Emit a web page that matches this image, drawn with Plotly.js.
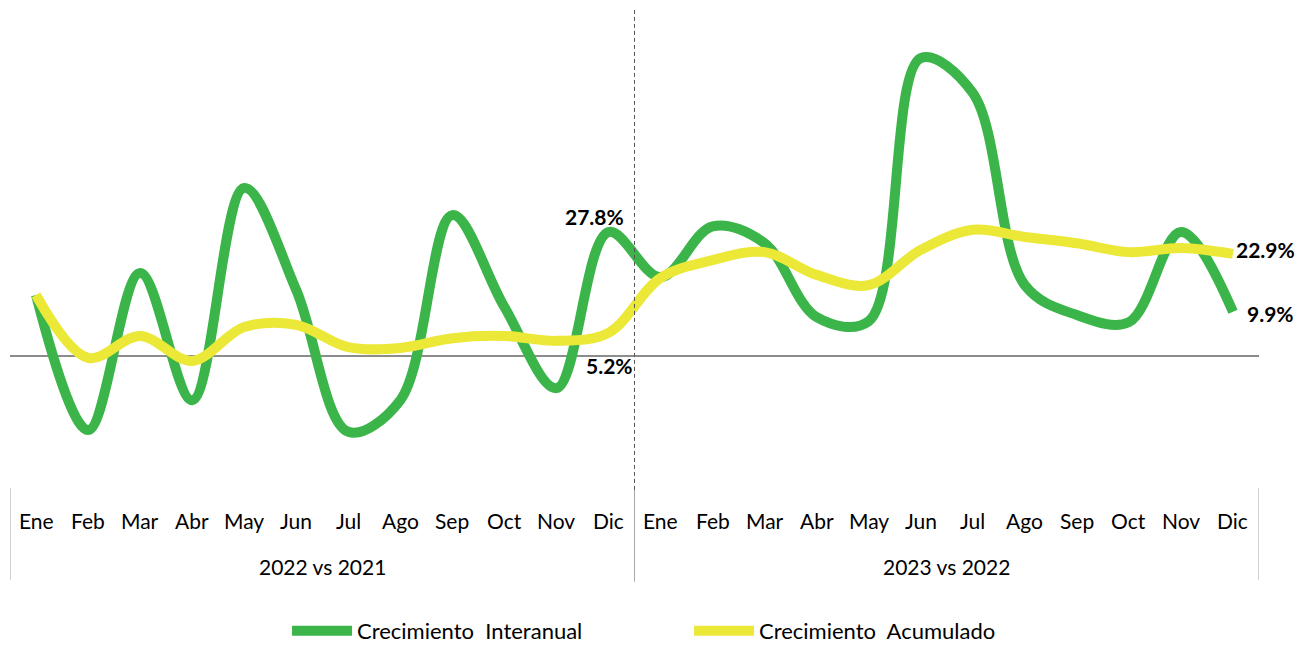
<!DOCTYPE html>
<html>
<head>
<meta charset="utf-8">
<script src="https://cdn.plot.ly/plotly-3.0.1.min.js"></script>
<style>
  html, body { margin: 0; padding: 0; background: #ffffff; }
  #chart { width: 1299px; height: 646px; }
</style>
</head>
<body>
<div id="chart"></div>
<script>
// ---- Data ----
const months = ["Ene","Feb","Mar","Abr","May","Jun","Jul","Ago","Sep","Oct","Nov","Dic"];
const groups = ["2022 vs 2021", "2023 vs 2022"];
const interanual = [13.7, -16.6, 18.6, -9.9, 37.7, 14.8, -17.0, -9.9, 31.6, 11.0, -7.2, 27.8,
                    17.7, 29.1, 25.3, 8.7, 7.8, 66.8, 59.0, 15.9, 9.2, 7.6, 27.8, 9.9];
const acumulado  = [13.7, -0.4, 4.5, -1.1, 6.5, 7.0, 2.0, 1.8, 4.0, 4.5, 3.4, 5.2,
                    17.5, 21.5, 23.3, 18.2, 15.9, 23.8, 28.3, 26.7, 25.3, 23.3, 24.2, 22.9];
const seriesNames = ["Crecimiento  Interanual", "Crecimiento  Acumulado"];

// ---- Build ----
const xs = interanual.map((_, i) => i);
const monthLabels = [];
groups.forEach(() => months.forEach(m => monthLabels.push(m)));

const GREEN = "#3bb54a";
const YELLOW = "#ebe838";
const FONT = "Lato, 'Liberation Sans', sans-serif";

const traces = [
  { x: xs, y: interanual, type: "scatter", mode: "lines", name: seriesNames[0],
    line: { color: GREEN, width: 10, shape: "spline", smoothing: 1 }, hoverinfo: "skip" },
  { x: xs, y: acumulado, type: "scatter", mode: "lines", name: seriesNames[1],
    line: { color: YELLOW, width: 10, shape: "spline", smoothing: 1 }, hoverinfo: "skip" }
];

const annotations = [];
monthLabels.forEach((m, i) => {
  annotations.push({ x: i, xref: "x", y: -0.069, yref: "paper", text: m, showarrow: false,
    font: { family: FONT, size: 21, color: "#000" }, xanchor: "center", yanchor: "middle" });
});
groups.forEach((g, k) => {
  annotations.push({ x: k * 12 + 5.5, xref: "x", y: -0.165, yref: "paper", text: g, showarrow: false,
    font: { family: FONT, size: 21, color: "#000" }, xanchor: "center", yanchor: "middle" });
});
const fmt = v => v.toFixed(1) + "%";
const lab = (idx, arr, xa, xs_, ys_) => annotations.push({
  x: idx, y: arr[idx], xref: "x", yref: "y", text: "<b>" + fmt(arr[idx]) + "</b>", showarrow: false,
  font: { family: FONT, size: 21, color: "#000" }, xanchor: xa, yanchor: "middle", xshift: xs_, yshift: ys_ });
lab(11, interanual, "center", -14, 16);
lab(11, acumulado, "center", 1, -33);
lab(23, acumulado, "left", 1, 4);
lab(23, interanual, "left", 12, -2);

const shapes = [
  { type: "line", xref: "x", yref: "paper", x0: 11.5, x1: 11.5, y0: -0.004, y1: 1,
    line: { color: "#555", width: 1, dash: "4px,3px" } },
  { type: "line", xref: "x", yref: "paper", x0: -0.5, x1: -0.5, y0: -0.192, y1: 0,
    line: { color: "#a6a6a6", width: 1 } },
  { type: "line", xref: "x", yref: "paper", x0: 11.5, x1: 11.5, y0: -0.196, y1: -0.004,
    line: { color: "#a6a6a6", width: 1 } },
  { type: "line", xref: "x", yref: "paper", x0: 23.5, x1: 23.5, y0: -0.192, y1: 0,
    line: { color: "#a6a6a6", width: 1 } }
];

const layout = {
  width: 1299, height: 646,
  margin: { l: 10, r: 40, t: 10, b: 158, autoexpand: false },
  paper_bgcolor: "#fff", plot_bgcolor: "#fff",
  showlegend: true,
  legend: { orientation: "h", x: 0.2218, xanchor: "left", y: -0.299, yanchor: "middle",
    font: { family: FONT, size: 22, color: "#000" }, itemwidth: 60,
    entrywidth: 327, entrywidthmode: "pixels",
    itemclick: false, itemdoubleclick: false },
  xaxis: { range: [-0.5, 23.5], showticklabels: false, ticks: "", showgrid: false, zeroline: false,
    showline: false, fixedrange: true },
  yaxis: { range: [-29.6, 77.6], showticklabels: false, ticks: "", showgrid: false,
    zeroline: true, zerolinecolor: "#8c8c8c", zerolinewidth: 1.5, showline: false, fixedrange: true },
  annotations: annotations,
  shapes: shapes
};

Plotly.newPlot("chart", traces, layout, { displayModeBar: false, staticPlot: true });
</script>
</body>
</html>
